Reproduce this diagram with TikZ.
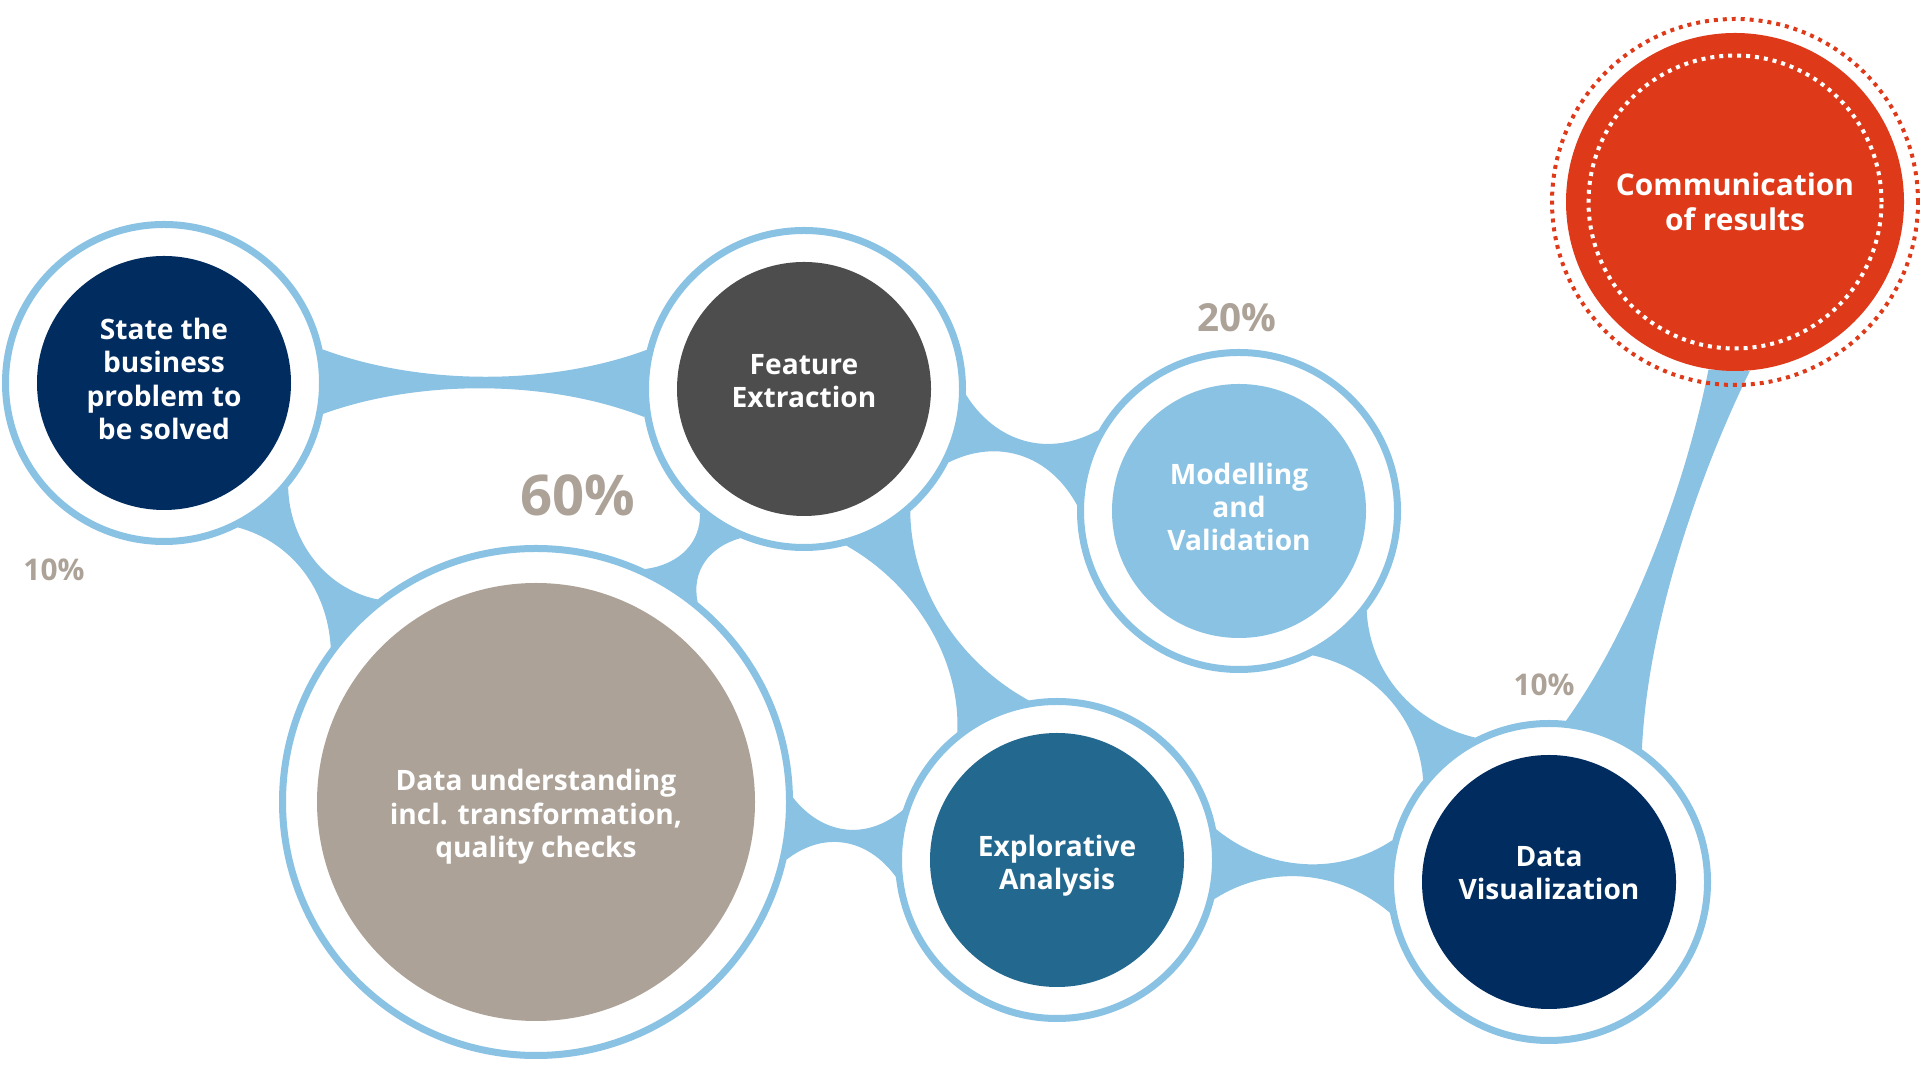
\documentclass[tikz,border=0pt]{standalone}
\usepackage{fontspec}
\setmainfont{Open Sans}
\usepackage{tikz}
\usetikzlibrary{positioning,calc,backgrounds}
\definecolor{linkblue}{RGB}{138, 194, 228}
\definecolor{navy}{RGB}{0, 44, 95}
\definecolor{slate}{RGB}{77, 77, 77}
\definecolor{taupe}{RGB}{172, 162, 151}
\definecolor{petrol}{RGB}{34, 104, 143}
\definecolor{signal}{RGB}{222, 58, 26}
\tikzstyle{ring} = [circle, draw=linkblue, line width=0.07cm, fill=white, inner sep=0pt, minimum size=3.17cm]
\tikzstyle{core} = [circle, inner sep=0pt, minimum size=2.54cm]
\tikzstyle{txt} = [text=white, align=center, font=\bfseries\fontsize{8}{9.5}\selectfont]
\tikzstyle{link} = [fill=linkblue]
\tikzstyle{pct} = [text=taupe, font=\bfseries\fontsize{8.5}{10}\selectfont]
\tikzstyle{reddots} = [draw=signal, line width=0.04cm, dash pattern=on 1.13pt off 1.42pt]
\tikzstyle{whitedots} = [draw=white, line width=0.04cm, dash pattern=on 1.13pt off 1.42pt]

% blue bridge between two rings: A, B, A upper, A lower, B upper, B lower, pinch
\newcommand{\bridge}[7]{%
  \coordinate (u1) at ($(#1.#3)!.3!(#2.#5)$);
  \coordinate (u2) at ($(#1.#3)!.7!(#2.#5)$);
  \coordinate (l1) at ($(#1.#4)!.3!(#2.#6)$);
  \coordinate (l2) at ($(#1.#4)!.7!(#2.#6)$);
  \fill[link] (#1.#3) .. controls ($(u1)!#7!(l1)$) and ($(u2)!#7!(l2)$) .. (#2.#5)
    -- (#2.#6) .. controls ($(l2)!#7!(u2)$) and ($(l1)!#7!(u1)$) .. (#1.#4) -- cycle;
}

\begin{document}
\begin{tikzpicture}[on grid]
\useasboundingbox (0,0) rectangle (19.2,10.8);

% rings =============================
\node[ring] (st) at (1.64,6.97) {};
\node[ring, below right=0.06cm and 6.40cm of st] (fe) {};
\node[ring, minimum size=5.07cm, below right=4.19cm and 3.72cm of st] (du) {};
\node[ring, below right=1.22cm and 4.35cm of fe] (mv) {};
\node[ring, below right=0.58cm and 5.21cm of du] (ea) {};
\node[ring, below right=0.22cm and 4.92cm of ea] (dv) {};

% steps
\node[core, fill=navy] (stc) at (st) {};
\node[core, fill=slate] (fec) at (fe) {};
\node[core, fill=taupe, minimum size=4.38cm] (duc) at (du) {};
\node[core, fill=linkblue] (mvc) at (mv) {};
\node[core, fill=petrol] (eac) at (ea) {};
\node[core, fill=navy] (dvc) at (dv) {};

\node[txt, yshift=0.04cm] (stt) at (stc) {State the\\business\\problem to\\be solved};
\node[txt, yshift=0.08cm] (fet) at (fec) {Feature\\Extraction};
\node[txt, yshift=-0.15cm] (dut) at (duc) {Data understanding\\incl. transformation,\\quality checks};
\node[txt, yshift=0.04cm] (mvt) at (mvc) {Modelling\\and\\Validation};
\node[txt, yshift=-0.06cm] (eat) at (eac) {Explorative\\Analysis};
\node[txt, yshift=0.09cm] (dvt) at (dvc) {Data\\Visualization};

% result
\node[core, fill=signal, minimum size=3.38cm, above right=6.80cm and 1.86cm of dv] (co) {};
\node[txt, font=\bfseries\fontsize{8.5}{10}\selectfont] (cot) at (co) {Communication\\of results};
\draw[reddots] (co) circle[radius=1.83cm];
\draw[whitedots] (co) circle[radius=1.465cm];

% shares
\node[pct] (p1) at (0.54,5.10) {10\%};
\node[pct, font=\bfseries\fontsize{16}{18}\selectfont] (p2) at (5.78,5.85) {60\%};
\node[pct, font=\bfseries\fontsize{11}{13}\selectfont] (p3) at (12.37,7.62) {20\%};
\node[pct] (p4) at (15.44,3.95) {10\%};

% bridges
\begin{scope}[on background layer]
\bridge{st}{fe}{12}{-11}{166}{190}{.55}
\bridge{st}{du}{-40}{-63}{128}{143}{.51}
\bridge{fe}{du}{-113}{-130}{51}{65}{.4}
\bridge{fe}{mv}{-2}{-27}{150}{178}{.53}
\bridge{fe}{ea}{-49}{-75}{100}{128}{.53}
\bridge{du}{ea}{1}{-13}{162}{186}{.53}
\bridge{mv}{dv}{-38}{-63}{117}{141}{.55}
\bridge{ea}{dv}{11}{-14}{165}{191}{.55}
\bridge{dv}{co}{84}{55}{-99}{-85}{.41}
\end{scope}

\end{tikzpicture}
\end{document}
